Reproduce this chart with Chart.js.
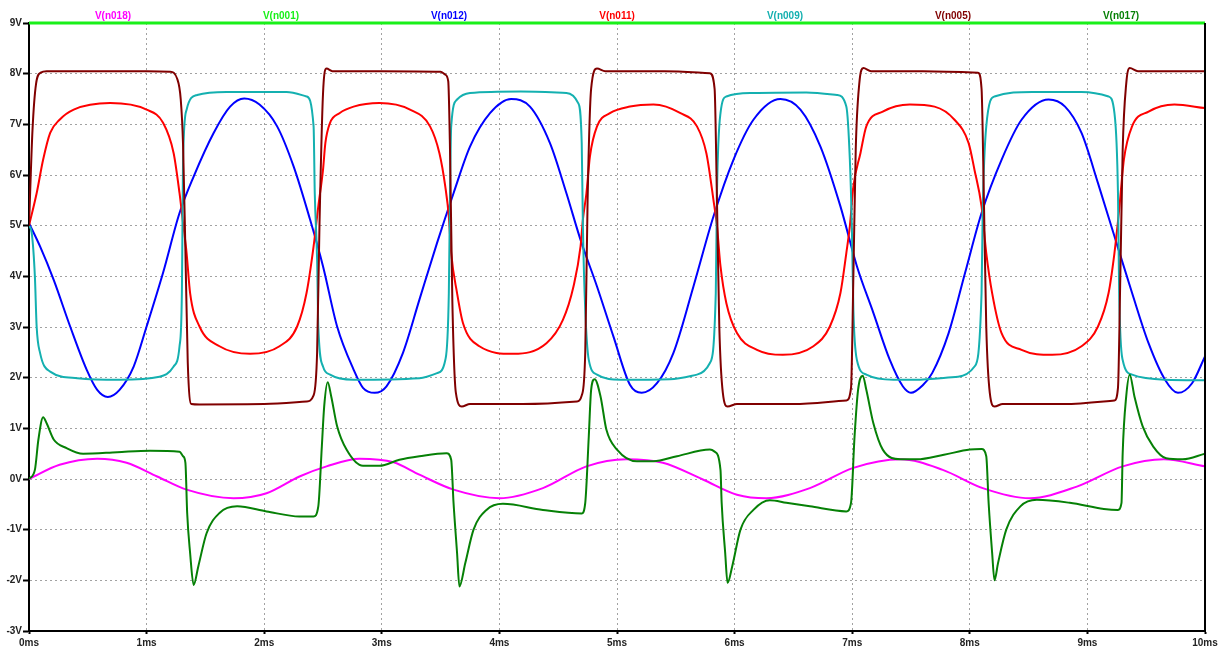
<!DOCTYPE html>
<html>
<head>
<meta charset="utf-8">
<script src="https://cdn.jsdelivr.net/npm/chart.js@4/dist/chart.umd.min.js"></script>
<style>
  html, body { margin: 0; padding: 0; background: #fff; }
  #wrap { width: 1228px; height: 651px; }
</style>
</head>
<body>
<div id="wrap"><canvas id="traceChart" width="1228" height="651"></canvas></div>
<script>
// trace labels and colours, in the order they appear along the top
const traceNames = ['V(n018)', 'V(n001)', 'V(n012)', 'V(n011)', 'V(n009)', 'V(n005)', 'V(n017)'];
const traceColors = ['#ff00ff', '#19f019', '#0000ff', '#ff0000', '#14b0b0', '#800000', '#068006'];

// axis ticks
const timeTicks = [0, 1, 2, 3, 4, 5, 6, 7, 8, 9, 10];       // ms
const voltTicks = [-3, -2, -1, 0, 1, 2, 3, 4, 5, 6, 7, 8, 9]; // V

// [time ms, volts]
const n018 = [[0,0],[0.26,0.28],[0.58,0.40],[0.83,0.32],[1.09,0.05],[1.34,-0.21],[1.74,-0.38],[2.02,-0.28],
  [2.30,0.05],[2.53,0.25],[2.81,0.40],[3.10,0.33],[3.32,0.085],[3.61,-0.21],[4.0,-0.38],[4.37,-0.18],
  [4.74,0.25],[5.08,0.39],[5.39,0.32],[5.73,-0.01],[6.02,-0.31],[6.27,-0.38],[6.64,-0.18],[7.01,0.22],
  [7.41,0.39],[7.77,0.18],[8.11,-0.18],[8.51,-0.38],[8.91,-0.15],[9.30,0.25],[9.65,0.39],[10,0.25]];

const n001 = [[0,9],[10,9]];

const n012 = [[0,5.05],[0.094,4.59],[0.21,3.93],[0.35,3.01],[0.49,2.16],[0.58,1.76],[0.67,1.62],[0.77,1.76],
  [0.89,2.22],[1.0,3.01],[1.14,4.07],[1.28,5.25],[1.40,5.97],[1.57,6.83],[1.71,7.35],[1.83,7.51],[1.96,7.39],
  [2.11,6.96],[2.25,6.17],[2.39,5.12],[2.50,4.20],[2.62,3.01],[2.76,2.16],[2.84,1.80],[2.94,1.70],[3.04,1.83],
  [3.18,2.49],[3.32,3.54],[3.47,4.66],[3.61,5.64],[3.75,6.56],[3.92,7.22],[4.10,7.50],[4.26,7.35],[4.43,6.63],
  [4.57,5.64],[4.69,4.72],[4.83,3.80],[4.97,2.81],[5.11,1.86],[5.21,1.70],[5.34,1.89],[5.48,2.49],[5.65,3.80],
  [5.82,5.18],[5.99,6.30],[6.16,7.09],[6.39,7.50],[6.56,7.29],[6.73,6.56],[6.90,5.38],[7.04,4.20],[7.18,3.28],
  [7.32,2.35],[7.43,1.83],[7.50,1.70],[7.60,1.85],[7.68,2.09],[7.82,2.88],[7.96,4.07],[8.10,5.25],[8.27,6.30],
  [8.44,7.09],[8.67,7.49],[8.81,7.35],[8.95,6.83],[9.09,5.84],[9.23,4.79],[9.38,3.67],[9.52,2.68],[9.66,1.96],
  [9.77,1.70],[9.89,1.89],[10,2.42]];

const n011 = [[0,5.0],[0.065,5.64],[0.12,6.30],[0.18,6.83],[0.26,7.09],[0.38,7.29],[0.69,7.42],[1.0,7.29],
  [1.14,7.03],[1.23,6.43],[1.28,5.64],[1.31,5.05],[1.34,4.46],[1.37,3.67],[1.45,3.01],[1.62,2.62],[1.88,2.47],
  [2.13,2.62],[2.28,3.01],[2.36,3.67],[2.42,4.59],[2.46,5.38],[2.50,6.10],[2.52,6.63],[2.56,7.03],[2.64,7.22],
  [2.76,7.35],[2.98,7.42],[3.24,7.29],[3.41,6.96],[3.49,6.43],[3.54,5.77],[3.57,5.18],[3.59,4.46],[3.64,3.67],
  [3.69,3.08],[3.83,2.62],[4.12,2.47],[4.40,2.68],[4.54,3.14],[4.63,3.80],[4.69,4.59],[4.71,5.12],[4.74,5.64],
  [4.77,6.37],[4.83,6.96],[4.94,7.22],[5.11,7.35],[5.31,7.39],[5.54,7.22],[5.68,6.96],[5.76,6.43],[5.82,5.51],
  [5.85,4.99],[5.88,4.20],[5.93,3.47],[6.02,2.88],[6.19,2.55],[6.41,2.45],[6.67,2.62],[6.81,3.01],[6.90,3.67],
  [6.95,4.46],[6.98,4.99],[7.01,5.77],[7.07,6.43],[7.12,6.96],[7.26,7.25],[7.49,7.39],[7.70,7.35],[7.87,7.09],
  [7.99,6.63],[8.04,6.10],[8.10,5.38],[8.14,4.46],[8.19,3.67],[8.27,2.88],[8.44,2.55],[8.70,2.45],[8.95,2.62],
  [9.09,3.01],[9.18,3.67],[9.23,4.46],[9.27,5.31],[9.31,6.30],[9.38,6.96],[9.52,7.25],[9.74,7.39],[10,7.32]];

const n009 = [[0,5.0],[0.023,4.86],[0.05,4.0],[0.065,3.01],[0.094,2.49],[0.18,2.12],[0.41,1.99],[0.77,1.96],
  [1.11,2.02],[1.23,2.22],[1.28,2.62],[1.30,3.67],[1.305,4.99],[1.31,6.30],[1.34,7.29],[1.43,7.58],[1.68,7.64],
  [2.19,7.64],[2.36,7.55],[2.42,6.96],[2.43,5.64],[2.45,4.33],[2.46,3.01],[2.50,2.22],[2.56,2.06],[2.76,1.96],
  [3.32,1.99],[3.47,2.09],[3.54,2.35],[3.57,3.67],[3.58,5.64],[3.59,6.96],[3.64,7.49],[3.75,7.62],[4.18,7.65],
  [4.57,7.62],[4.67,7.42],[4.70,6.63],[4.71,4.99],[4.73,3.34],[4.76,2.35],[4.83,2.06],[5.03,1.96],[5.45,1.97],
  [5.68,2.06],[5.79,2.29],[5.84,3.67],[5.85,5.64],[5.88,7.22],[5.93,7.55],[6.16,7.62],[6.61,7.63],[6.87,7.58],
  [6.95,7.35],[6.98,6.30],[6.997,4.99],[7.01,3.34],[7.04,2.35],[7.12,2.06],[7.35,1.96],[7.53,1.96],[7.90,2.02],
  [8.04,2.22],[8.10,3.67],[8.11,5.31],[8.14,6.96],[8.21,7.55],[8.53,7.64],[8.95,7.64],[9.18,7.55],[9.23,7.22],
  [9.26,5.64],[9.27,3.67],[9.30,2.35],[9.38,2.06],[9.66,1.96],[10,1.95]];

const n005 = [[0,5.0],[0.03,6.9],[0.06,7.8],[0.1,8.02],[0.15,8.05],[0.5,8.05],[1.0,8.05],[1.2,8.04],[1.26,7.9],
  [1.29,7.5],[1.31,6.6],[1.33,4.5],[1.35,2.3],[1.38,1.48],[1.45,1.47],[2.0,1.48],[2.36,1.53],[2.42,1.65],
  [2.45,2.5],[2.47,5.0],[2.50,7.6],[2.53,8.1],[2.58,8.05],[3.0,8.05],[3.5,8.04],[3.54,7.98],[3.565,7.85],
  [3.58,6.5],[3.60,3.5],[3.63,1.7],[3.68,1.43],[3.75,1.48],[4.2,1.48],[4.66,1.53],[4.70,1.65],[4.73,2.5],
  [4.75,5.5],[4.78,7.7],[4.83,8.1],[4.9,8.05],[5.4,8.05],[5.79,8.01],[5.83,7.7],[5.85,5.5],[5.87,3.0],
  [5.90,1.7],[5.94,1.43],[6.02,1.48],[6.5,1.48],[6.95,1.55],[6.99,1.8],[7.01,4.0],[7.03,6.5],[7.06,7.8],
  [7.095,8.11],[7.16,8.05],[7.6,8.05],[8.07,8.02],[8.10,7.7],[8.12,5.5],[8.14,3.0],[8.17,1.7],[8.21,1.43],
  [8.28,1.48],[8.8,1.48],[9.23,1.55],[9.26,1.8],[9.28,4.0],[9.30,6.5],[9.33,7.8],[9.36,8.11],[9.43,8.05],[10,8.05]];

const n017 = [[0,0],[0.05,0.18],[0.08,0.78],[0.12,1.22],[0.15,1.10],[0.21,0.78],[0.32,0.61],[0.46,0.50],
  [0.75,0.53],[1.03,0.56],[1.28,0.54],[1.31,0.45],[1.33,0.32],[1.345,-0.67],[1.37,-1.46],[1.40,-2.09],
  [1.44,-1.72],[1.51,-1.07],[1.62,-0.67],[1.77,-0.54],[2.02,-0.64],[2.30,-0.74],[2.42,-0.74],[2.46,-0.54],
  [2.49,0.64],[2.51,1.43],[2.54,1.91],[2.57,1.63],[2.62,1.04],[2.70,0.58],[2.84,0.26],[2.98,0.26],[3.15,0.38],
  [3.32,0.45],[3.55,0.51],[3.59,0.38],[3.61,-0.47],[3.64,-1.46],[3.66,-2.12],[3.71,-1.66],[3.78,-1.0],
  [3.89,-0.61],[4.03,-0.49],[4.37,-0.61],[4.70,-0.68],[4.73,-0.47],[4.76,0.84],[4.78,1.76],[4.81,1.97],
  [4.86,1.63],[4.91,0.97],[5.0,0.58],[5.17,0.35],[5.31,0.35],[5.51,0.45],[5.79,0.58],[5.83,0.54],[5.88,0.18],
  [5.89,-0.47],[5.92,-1.46],[5.94,-2.05],[5.98,-1.72],[6.05,-1.0],[6.16,-0.61],[6.30,-0.42],[6.44,-0.47],
  [6.64,-0.54],[6.95,-0.64],[6.99,-0.47],[7.02,0.84],[7.05,1.76],[7.09,2.04],[7.12,1.76],[7.18,1.10],
  [7.26,0.58],[7.41,0.39],[7.55,0.39],[7.78,0.48],[8.0,0.58],[8.10,0.59],[8.14,0.45],[8.16,-0.47],[8.19,-1.46],
  [8.21,-2.0],[8.24,-1.66],[8.31,-1.0],[8.43,-0.54],[8.57,-0.41],[8.85,-0.47],[9.14,-0.59],[9.26,-0.61],
  [9.29,-0.47],[9.30,0.51],[9.33,1.63],[9.36,2.06],[9.40,1.63],[9.47,1.04],[9.56,0.64],[9.67,0.41],[9.81,0.39],[10,0.50]];

const traces = [n018, n001, n012, n011, n009, n005, n017];

const tickFont = { family: '"Liberation Sans", Arial, sans-serif', size: 10, weight: 'bold' };

// trace names spread evenly over the top, LTspice style
const topLabels = {
  id: 'topLabels',
  afterDraw(chart) {
    const { ctx, chartArea } = chart;
    const step = (chartArea.right - chartArea.left) / chart.data.datasets.length;
    ctx.save();
    ctx.font = 'bold 10px "Liberation Sans", Arial, sans-serif';
    ctx.textAlign = 'center';
    ctx.textBaseline = 'middle';
    chart.data.datasets.forEach((ds, i) => {
      ctx.fillStyle = ds.borderColor;
      ctx.fillText(ds.label, chartArea.left + step * (i + 0.5), 16);
    });
    ctx.restore();
  },
  afterDatasetsDraw(chart) {
    // right edge of the frame
    const { ctx, chartArea } = chart;
    ctx.save();
    ctx.strokeStyle = '#000';
    ctx.lineWidth = 2;
    ctx.beginPath();
    ctx.moveTo(chartArea.right, chartArea.top);
    ctx.lineTo(chartArea.right, chartArea.bottom);
    ctx.stroke();
    ctx.restore();
  }
};

new Chart('traceChart', {
  type: 'line',
  data: {
    datasets: traces.map((pts, i) => ({
      label: traceNames[i],
      data: pts.map(p => ({ x: p[0], y: p[1] })),
      borderColor: traceColors[i],
      borderWidth: i === 1 ? 3 : 2,
      pointRadius: 0,
      fill: false,
      clip: i === 1 ? false : undefined,
      cubicInterpolationMode: 'monotone',
      order: traces.length - i
    }))
  },
  options: {
    responsive: false,
    animation: false,
    events: [],
    layout: { padding: { top: 23, right: 23, left: 0, bottom: 0 } },
    plugins: { legend: { display: false }, tooltip: { enabled: false } },
    scales: {
      x: {
        type: 'linear',
        min: timeTicks[0],
        max: timeTicks[timeTicks.length - 1],
        afterBuildTicks: s => { s.ticks = timeTicks.map(v => ({ value: v })); },
        afterFit: s => { s.height = 20; },
        ticks: {
          autoSkip: false, maxRotation: 0, padding: 3,
          color: '#222', font: tickFont,
          callback: v => v + 'ms'
        },
        grid: { color: '#a2a2a2', tickColor: '#000', tickLength: 3, tickWidth: 2, tickBorderDash: [] },
        border: { color: '#000', width: 2, dash: [2, 3] }
      },
      y: {
        min: voltTicks[0],
        max: voltTicks[voltTicks.length - 1],
        afterBuildTicks: s => { s.ticks = voltTicks.map(v => ({ value: v })); },
        afterFit: s => { s.width = 29; },
        ticks: {
          autoSkip: false, padding: 1,
          color: '#222', font: tickFont,
          callback: v => v + 'V'
        },
        grid: { color: '#a2a2a2', tickColor: '#000', tickLength: 6, tickWidth: 2, tickBorderDash: [] },
        border: { color: '#000', width: 2, dash: [2, 3] }
      }
    }
  },
  plugins: [topLabels]
});
</script>
</body>
</html>
